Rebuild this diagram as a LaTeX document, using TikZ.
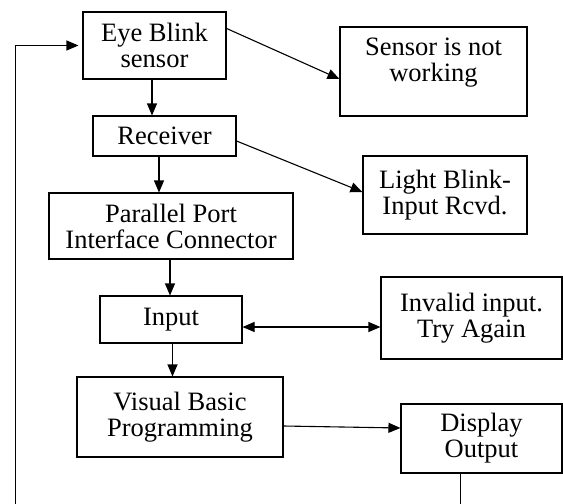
\documentclass[tikz,border=0pt]{standalone}
\usepackage{fontspec}
\setmainfont{Liberation Serif}
\usetikzlibrary{arrows.meta}
\begin{document}
\begin{tikzpicture}[x=1pt,y=-1pt,
  box/.style={draw, line width=1.1pt, align=center, inner sep=0pt, font=\fontsize{26.5}{26}\selectfont},
  txt/.style={align=center, inner sep=0pt, font=\fontsize{26.5}{26}\selectfont},
  conn/.style={line width=1.1pt},
  arr/.style={line width=1.1pt, -{Triangle[length=12pt,width=10pt]}},
  darr/.style={line width=1.1pt, {Triangle[length=12pt,width=10pt]}-{Triangle[length=12pt,width=10pt]}}]
\useasboundingbox (0,0) rectangle (563,504);
\node[box, minimum width=143pt, minimum height=67pt] (eye) at (154.5,45.5) {Eye Blink\\sensor};
\node[box, minimum width=187pt, minimum height=89pt] (sensor) at (433.5,71.5) {};
\node[txt] (sensortxt) at (433.5,63) {Sensor is not\\working};
\node[box, minimum width=143pt, minimum height=40pt] (recv) at (164.5,136) {Receiver};
\node[box, minimum width=164pt, minimum height=78pt] (light) at (445,195) {Light Blink-\\Input Rcvd.};
\node[box, minimum width=244pt, minimum height=66pt] (par) at (171,226) {Parallel Port\\Interface Connector};
\node[box, minimum width=142pt, minimum height=47pt] (input) at (171,319.5) {Input};
\node[box, minimum width=181pt, minimum height=82pt] (invalid) at (471.5,318) {Invalid input.\\Try Again};
\node[box, minimum width=206pt, minimum height=80pt] (vb) at (180,417) {Visual Basic\\Programming};
\node[box, minimum width=161pt, minimum height=69pt] (disp) at (481.5,438.5) {Display\\Output};
\coordinate (b1) at (460.5,504);
\coordinate (b2) at (15.5,504);
\draw[arr] ([xshift=-2.5]eye.south) -- ([xshift=-2.5]eye.south |- recv.north);
\draw[arr] ([yshift=-17]eye.north east) -- ([yshift=-7.5]sensor.west);
\draw[arr] ([yshift=-5]recv.east) -- ([yshift=3]light.west);
\draw[arr] ([xshift=-5.5]recv.south) -- ([xshift=-5.5]recv.south |- par.north);
\draw[arr] ([xshift=-1]par.south) -- ([xshift=-1]par.south |- input.north);
\draw[darr] ([yshift=-7.5]input.east) -- ([yshift=-9]invalid.west);
\draw[arr] ([xshift=1.5]input.south) -- ([xshift=1.5]input.south |- vb.north);
\draw[arr] ([yshift=-9]vb.east) -- ([yshift=10.5]disp.west);
\draw[conn] ([xshift=-21]disp.south) -- (b1);
\draw[arr, shorten >=4pt] (b2) |- (eye.west);
\end{tikzpicture}
\end{document}
